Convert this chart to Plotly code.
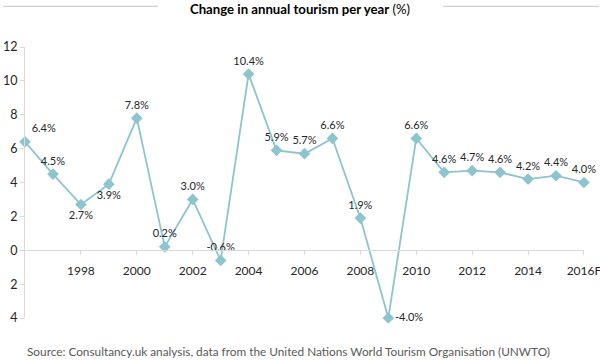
import plotly.graph_objects as go

years = list(range(1996, 2017))
values = [6.4, 4.5, 2.7, 3.9, 7.8, 0.2, 3.0, -0.6, 10.4, 5.9, 5.7, 6.6, 1.9, -4.0, 6.6, 4.6, 4.7, 4.6, 4.2, 4.4, 4.0]
labels = ["6.4%", "4.5%", "2.7%", "3.9%", "7.8%", "0.2%", "3.0%", "-0.6%", "10.4%", "5.9%", "5.7%",
          "6.6%", "1.9%", "-4.0%", "6.6%", "4.6%", "4.7%", "4.6%", "4.2%", "4.4%", "4.0%"]
label_pos = ["top right", "top center", "bottom center", "bottom center", "top center", "top center",
             "top center", "top center", "top center", "top center", "top center", "top center",
             "top center", "middle right", "top center", "top center", "top center", "top center",
             "top center", "top center", "top center"]
x_tickvals = [1998, 2000, 2002, 2004, 2006, 2008, 2010, 2012, 2014, 2016]
x_ticktext = ["1998", "2000", "2002", "2004", "2006", "2008", "2010", "2012", "2014", "2016F"]
y_tickvals = [12, 10, 8, 6, 4, 2, 0, -2, -4]
y_ticktext = ["12", "10", "8", "6", "4", "2", "0", "2", "4"]

LINE = "#8DC4CE"
FONT = "Lato"

fig = go.Figure()
fig.add_trace(go.Scatter(
    x=years, y=values, mode="lines+markers+text",
    line=dict(color=LINE, width=1.8),
    marker=dict(symbol="diamond", size=9, color=LINE),
    text=labels, textposition=label_pos,
    textfont=dict(family=FONT, size=11, color="#262626"),
    cliponaxis=False, showlegend=False,
))

fig.update_layout(
    width=600, height=360,
    margin=dict(l=25, r=16, t=47, b=42, autoexpand=False),
    paper_bgcolor="white", plot_bgcolor="white",
    font=dict(family=FONT, size=12, color="#262626"),
    title=dict(
        text="<b>Change in annual tourism per year</b> (%)",
        x=0.5, xref="container", xanchor="center",
        y=1 - 9 / 360, yref="container", yanchor="middle",
        font=dict(family=FONT, size=13.2, color="#000000"),
    ),
    xaxis=dict(
        range=[1996, 2016.002], tickvals=x_tickvals, ticktext=x_ticktext,
        showgrid=False, zeroline=False, showline=True, linecolor="#D9D9D9", linewidth=1,
        ticks="outside", ticklen=4, tickcolor="#D9D9D9",
        anchor="free", position=0.25, ticklabelstandoff=5, automargin=False,
        ticklabeloverflow="allow",
        tickfont=dict(family=FONT, size=12, color="#262626"),
    ),
    yaxis=dict(
        range=[-4, 12], tickvals=y_tickvals, ticktext=y_ticktext,
        showgrid=False, zeroline=False, showline=True, linecolor="#D9D9D9", linewidth=1,
        ticks="outside", ticklen=4, tickcolor="#D9D9D9", automargin=False,
        tickfont=dict(family=FONT, size=12.5, color="#262626"),
    ),
    shapes=[
        dict(type="line", xref="paper", yref="paper", x0=-0.039, x1=0.238, y0=1.150, y1=1.150,
             line=dict(color="#D0D0D0", width=1.3)),
        dict(type="line", xref="paper", yref="paper", x0=0.748, x1=1.027, y0=1.150, y1=1.150,
             line=dict(color="#D0D0D0", width=1.3)),
    ],
    annotations=[
        dict(text="Source: Consultancy.uk analysis, data from the United Nations World Tourism Organisation (UNWTO)",
             xref="paper", yref="paper", x=0.0, y=-0.125, xanchor="left", yanchor="middle",
             showarrow=False, font=dict(family=FONT, size=11.8, color="#595959")),
    ],
)

fig.write_html("out.html", post_script="document.body.style.margin='0';",
               config={"displayModeBar": False})
